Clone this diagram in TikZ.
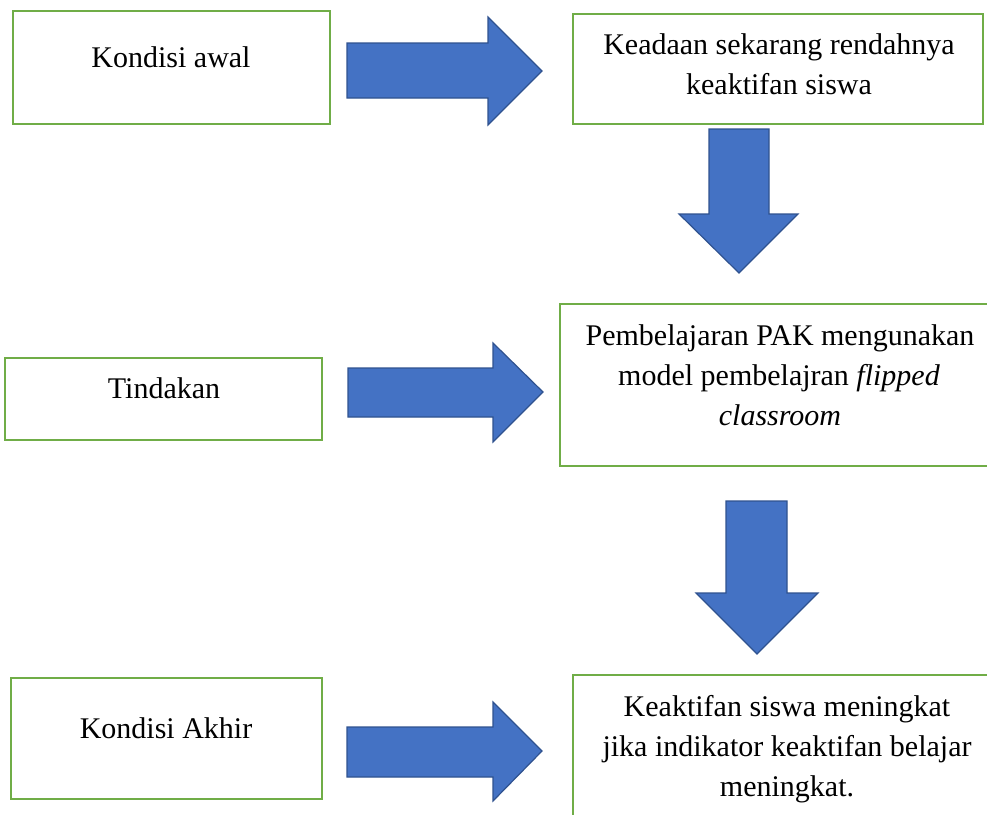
\documentclass[tikz,border=0pt]{standalone}
\usepackage{fontspec}
\setmainfont{Liberation Serif}
\definecolor{boxgreen}{HTML}{70AD47}
\definecolor{arrowblue}{HTML}{4472C4}
\definecolor{arrowedge}{HTML}{2F528F}
\begin{document}
\begin{tikzpicture}[x=1pt,y=-1pt,
  box/.style={draw=boxgreen,line width=2pt,fill=white,inner sep=0pt,rectangle},
  txt/.style={anchor=base,inner sep=0pt,font=\fontsize{30}{40}\selectfont},
  blockarrow/.style={fill=arrowblue,draw=arrowedge,line width=1.2pt,line join=miter}]
\useasboundingbox (0,0) rectangle (987,814);
% boxes
\node[box,minimum width=317,minimum height=113] (b1) at (171.5,67.5) {};
\node[box,minimum width=410,minimum height=110] (b2) at (778,69) {};
\node[box,minimum width=317,minimum height=82]  (b3) at (163.5,399) {};
\node[box,minimum width=432,minimum height=162] (b4) at (776,385) {};
\node[box,minimum width=311,minimum height=121] (b5) at (166.5,738.5) {};
\node[box,minimum width=419,minimum height=155] (b6) at (782.5,752.5) {};
% texts
\node[txt] (t1) at (171,67) {Kondisi awal};
\node[txt] (t2a) at (779,54) {Keadaan sekarang rendahnya};
\node[txt] (t2b) at (779,94) {keaktifan siswa};
\node[txt] (t3) at (164,398) {Tindakan};
\node[txt] (t4a) at (780,345) {Pembelajaran PAK mengunakan};
\node[txt] (t4b) at (779,385) {model pembelajran \textit{flipped}};
\node[txt] (t4c) at (780,425) {\textit{classroom}};
\node[txt] (t5) at (166,738) {Kondisi Akhir};
\node[txt] (t6a) at (787,716) {Keaktifan siswa meningkat};
\node[txt] (t6b) at (787,756) {jika indikator keaktifan belajar};
\node[txt] (t6c) at (787,796) {meningkat.};
% right block arrows
\draw[blockarrow] (347,43) -- (488,43) -- (488,17) -- (542,71) -- (488,125) -- (488,98) -- (347,98) -- cycle;
\draw[blockarrow] (348,368) -- (493,368) -- (493,343) -- (543,392) -- (493,442) -- (493,417) -- (348,417) -- cycle;
\draw[blockarrow] (347,727) -- (493,727) -- (493,702) -- (542,751) -- (493,801) -- (493,777) -- (347,777) -- cycle;
% down block arrows
\draw[blockarrow] (709,129) -- (769,129) -- (769,214) -- (798,214) -- (739,273) -- (679,214) -- (709,214) -- cycle;
\draw[blockarrow] (726,501) -- (787,501) -- (787,593) -- (818,593) -- (757,654) -- (696,593) -- (726,593) -- cycle;
\end{tikzpicture}
\end{document}
